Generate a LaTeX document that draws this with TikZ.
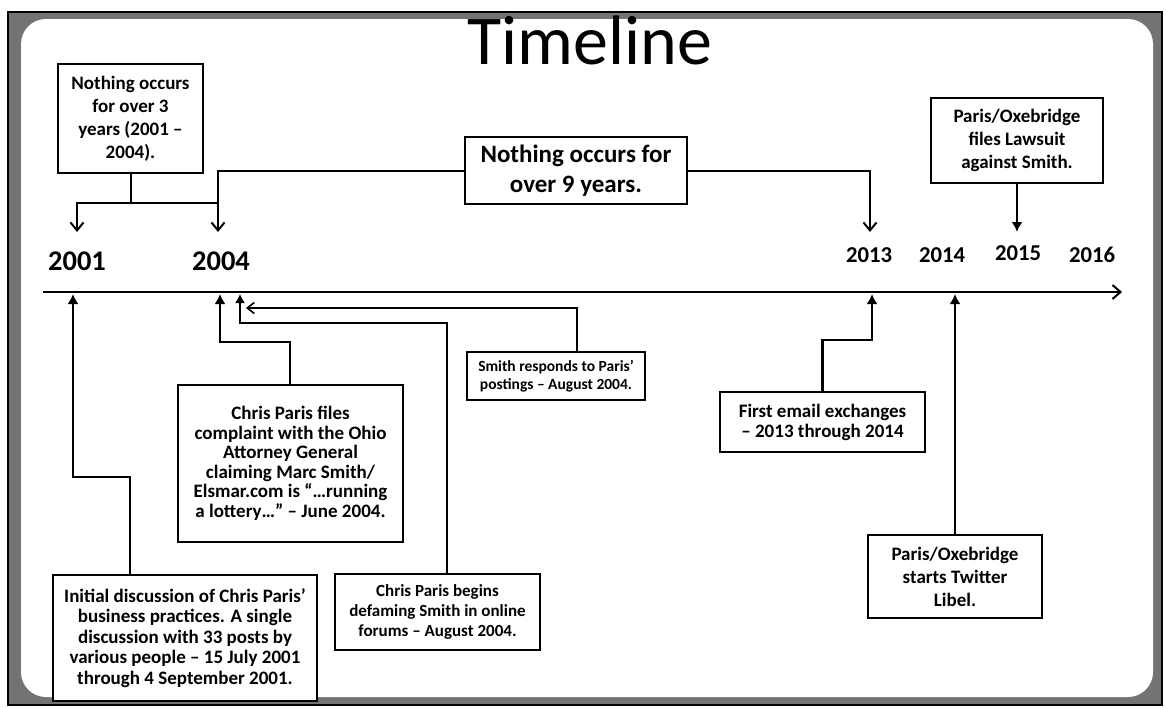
\documentclass[tikz,border=0pt]{standalone}
\usepackage{fontspec}
\setmainfont{Carlito}
\usetikzlibrary{arrows.meta,calc}
\tikzset{
	evbox/.style={draw, line width=1.8pt, fill=white, align=center, inner sep=2pt},
	riser/.style={line width=2.8pt, -{Latex[length=10pt,width=11pt]}},
	thinriser/.style={line width=1.6pt, -{Latex[length=9pt,width=10pt]}},
	dropper/.style={line width=2pt, -{Straight Barb[length=8pt,width=13pt]}},
	yearlbl/.style={anchor=base},
}
\newcommand{\boxfont}[2]{\bfseries\fontsize{#1}{#2}\selectfont}

\begin{document}
\begin{tikzpicture}[x=1pt,y=-1pt]
		%%%%% START %%%%%
		\useasboundingbox (0,0) rectangle (1166,707);
		
		% frame
		\fill[black!55] (8,12) rectangle (1162,705);
		\fill[white, rounded corners=25pt] (21,19) rectangle (1153,697);
		\draw[line width=2pt] (8,12) rectangle (1162,705);
		
		\node[font=\fontsize{70}{70}\selectfont, anchor=base] (title) at (590,64) {Timeline};
		
		% axis
		\coordinate (axL) at (43,292);
		\coordinate (axR) at (1122,292);
		\draw[line width=2pt, -{Straight Barb[length=8pt,width=14pt]}] (axL) -- (axR);
		
		\node[yearlbl, font=\boxfont{28.5}{30}] (y01) at (77,270) {2001};
		\node[yearlbl, font=\boxfont{28.5}{30}] (y04) at (221,270) {2004};
		\node[yearlbl, font=\boxfont{22.7}{24}] (y13) at (869,262) {2013};
		\node[yearlbl, font=\boxfont{22.7}{24}] (y14) at (942,262) {2014};
		\node[yearlbl, font=\boxfont{22.7}{24}] (y15) at (1018,260) {2015};
		\node[yearlbl, font=\boxfont{22.7}{24}] (y16) at (1092,262) {2016};
		
		% boxes above the axis
		\node[evbox, font=\boxfont{19}{23}, minimum width=145, minimum height=109] (nothree) at (130.5,118.5) {Nothing occurs\\for over 3\\years (2001 –\\2004).};
		\node[evbox, font=\boxfont{25}{30}, minimum width=222, minimum height=67] (ninebox) at (576,170.5) {Nothing occurs for\\over 9 years.};
		\node[evbox, font=\boxfont{19}{23}, minimum width=172, minimum height=85] (lawsuit) at (1017,140.5) {Paris/Oxebridge\\files Lawsuit\\against Smith.};
		
		% boxes below the axis
		\node[evbox, font=\boxfont{19}{20.5}, minimum width=264, minimum height=126] (initial) at (185,638) {Initial discussion of Chris Paris’\\business practices. A single\\discussion with 33 posts by\\various people – 15 July 2001\\through 4 September 2001.};
		\node[evbox, font=\boxfont{19}{19.5}, minimum width=225, minimum height=157] (complaint) at (290.5,463.5) {Chris Paris files\\complaint with the Ohio\\Attorney General\\claiming Marc Smith/\\Elsmar.com is “…running\\a lottery…” – June 2004.};
		\node[evbox, font=\boxfont{17}{20}, minimum width=205, minimum height=76] (begins) at (437.5,612) {Chris Paris begins\\defaming Smith in online\\forums – August 2004.};
		\node[evbox, font=\boxfont{15.5}{18}, minimum width=178, minimum height=48] (smith) at (556,376) {Smith responds to Paris’\\postings – August 2004.};
		\node[evbox, font=\boxfont{19}{20}, minimum width=205, minimum height=60] (email) at (822.5,422) {First email exchanges\\– 2013 through 2014};
		\node[evbox, font=\boxfont{19}{23}, minimum width=174, minimum height=83] (twitter) at (955,576.5) {Paris/Oxebridge\\starts Twitter\\Libel.};
		
		% points on the axis and bends
		\coordinate (t01) at (73,294);
		\coordinate (t04) at (220,294);
		\coordinate (t04b) at (240,294);
		\coordinate (t04c) at (246,308);
		\coordinate (t13) at (872,294);
		\coordinate (t14) at (957,294);
		\coordinate (d01) at (77,232);
		\coordinate (d04) at (218,232);
		\coordinate (d13) at (870,232);
		\coordinate (d15) at (1017,232);
		\coordinate (k1) at (130,477);
		\coordinate (k2) at (290,342);
		\coordinate (k3) at (447,323);
		\coordinate (k4) at (577,308);
		\coordinate (k5) at (872,340);
		\coordinate (jn) at ($(nothree.south)+(0,29)$);
		
		% connectors from the top
		\draw[line width=2pt] (nothree.south) -- (jn);
		\draw[dropper] (jn) -| (d01);
		\draw[line width=2pt] (jn) -- (jn -| d04);
		\draw[dropper] (ninebox.west) -| (d04);
		\draw[dropper] (ninebox.east) -| (d13);
		\draw[riser] (lawsuit.south) -- (d15);
		
		% connectors from the bottom
		\draw[riser] (initial.north -| k1) -- (k1) -| (t01);
		\draw[riser] (complaint.north -| k2) -- (k2) -| (t04);
		\draw[thinriser] (begins.north -| k3) -- (k3) -| (t04b);
		\draw[line width=1.6pt, -{Straight Barb[length=7pt,width=11pt]}] (smith.north -| k4) -- (k4) -- (t04c);
		\draw[riser] (email.north) |- (k5) -- (t13);
		\draw[riser] (twitter.north) -- (twitter.north |- t14);
		
		%%%%% END %%%%%
	\end{tikzpicture}
\end{document}
